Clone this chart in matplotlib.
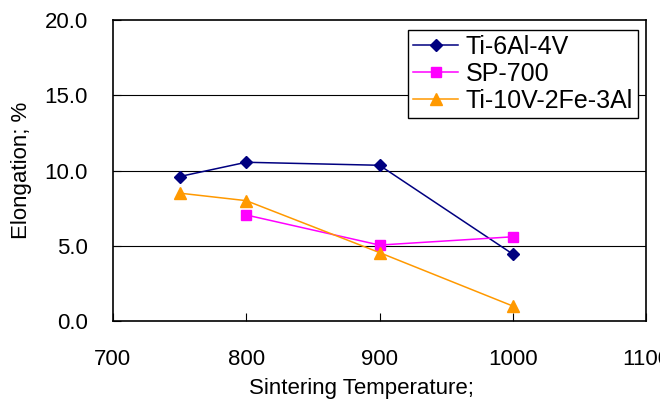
import matplotlib
matplotlib.use("Agg")
import matplotlib.pyplot as plt

plt.rcParams['font.family'] = ['Liberation Sans', 'DejaVu Sans']

temps_ti64 = [750, 800, 900, 1000]
elong_ti64 = [9.6, 10.55, 10.35, 4.45]

temps_sp700 = [800, 900, 1000]
elong_sp700 = [7.05, 5.05, 5.6]

temps_ti1023 = [750, 800, 900, 1000]
elong_ti1023 = [8.5, 8.0, 4.55, 1.0]

x_ticks = [700, 800, 900, 1000, 1100]
y_ticks = [0, 5, 10, 15, 20]

fig = plt.figure(figsize=(6.6, 4.08), dpi=100)
ax = fig.add_axes([0.171, 0.213, 0.808, 0.738])

# horizontal grid lines
for y in y_ticks[1:-1]:
    ax.axhline(y, color="black", lw=0.8, zorder=1)

ax.plot(temps_ti64, elong_ti64, color="#000080", marker="D", ms=6.5, lw=1.1,
        label="Ti-6Al-4V", zorder=3)
ax.plot(temps_sp700, elong_sp700, color="#FF00FF", marker="s", ms=6.5, lw=1.1,
        label="SP-700", zorder=3)
ax.plot(temps_ti1023, elong_ti1023, color="#FF9900", marker="^", ms=8, lw=1.1,
        label="Ti-10V-2Fe-3Al", zorder=3)

ax.set_xlim(700, 1100)
ax.set_ylim(0, 20)
ax.set_xticks(x_ticks)
ax.set_yticks(y_ticks)
ax.set_yticklabels(["%.1f" % v for v in y_ticks])
ax.tick_params(axis="x", direction="in", length=6, width=0.8, pad=20, labelsize=16)
ax.tick_params(axis="y", direction="in", length=6, width=0.8, pad=18, labelsize=16)
for s in ax.spines.values():
    s.set_linewidth(1.2)

ax.set_xlabel("Sintering Temperature;", fontsize=16)
ax.set_ylabel("Elongation; %", fontsize=16)
ax.xaxis.set_label_coords(0.467, -0.19)
ax.yaxis.set_label_coords(-0.152, 0.5)

leg = ax.legend(loc="upper right", bbox_to_anchor=(0.985, 0.967), borderaxespad=0,
                fontsize=18, frameon=True, fancybox=False, edgecolor="black",
                handlelength=1.8, handletextpad=0.3, labelspacing=0.12,
                borderpad=0.2)
leg.get_frame().set_linewidth(1.0)
leg.get_frame().set_alpha(1)
for t in leg.get_texts():
    t.set_fontstretch("expanded")

fig.savefig("out.png", dpi=100)
